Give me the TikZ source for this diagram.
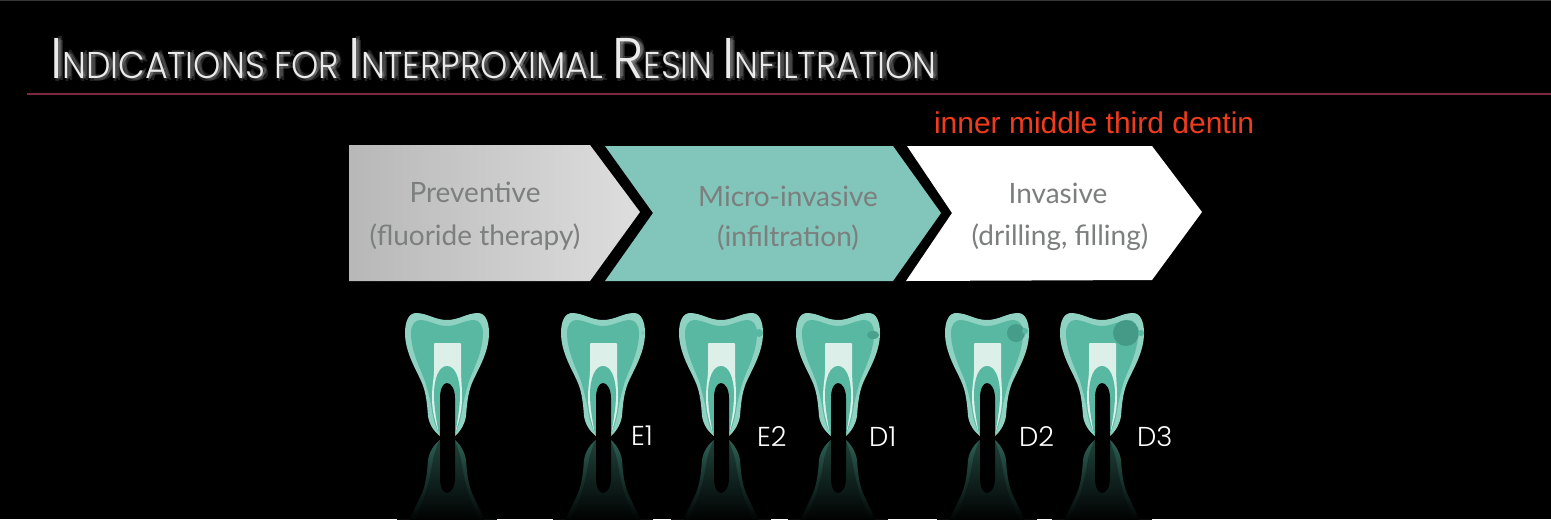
\documentclass[tikz,border=0pt]{standalone}
\usepackage{fontspec}
\usetikzlibrary{fadings}
\setmainfont{Lato}
\newfontfamily\titlefont{Poppins Light}
\newfontfamily\redfont{Liberation Sans}
\definecolor{enamel}{HTML}{8FD2C2}
\definecolor{dentin}{HTML}{58B8A2}
\definecolor{pulp}{HTML}{DCEFE9}
\definecolor{lesion}{HTML}{3F9180}
\definecolor{stage}{HTML}{82C5BA}
\definecolor{stagetext}{HTML}{7C7F7E}
\definecolor{rulecol}{HTML}{7A2A40}
\definecolor{redtext}{HTML}{F03C1E}
\newcommand{\tcap}[1]{{\fontsize{43}{43}\selectfont #1}}
\newcommand{\titletext}{\scalebox{0.93}[1]{\titlefont\fontsize{28}{28}\selectfont \tcap{I}NDICATIONS FOR \tcap{I}NTERPROXIMAL \tcap{R}ESIN \tcap{I}NFILTRATION}}
\newcommand{\outerpath}{(-7,123) .. controls (-14,118) and (-18,110) .. (-19,103) .. controls (-20,90) and (-21,80) .. (-25,70) .. controls (-30,58) and (-42,40) .. (-42,20) .. controls (-42,8) and (-38,0) .. (-31,0) .. controls (-20,0) and (-12,7) .. (0,7) .. controls (12,7) and (20,0) .. (31,0) .. controls (38,0) and (42,8) .. (42,20) .. controls (42,40) and (30,58) .. (25,70) .. controls (21,80) and (20,90) .. (19,103) .. controls (18,110) and (14,118) .. (8,123) -- cycle}
\newcommand{\dentinpath}{(-8,122) .. controls (-12,112) and (-14,105) .. (-15,98) .. controls (-17,85) and (-20,75) .. (-22,68) .. controls (-27,55) and (-36,38) .. (-36,20) .. controls (-36,12) and (-32,7) .. (-27,7) .. controls (-18,7) and (-10,13) .. (0,13) .. controls (10,13) and (18,7) .. (27,7) .. controls (32,7) and (36,12) .. (36,20) .. controls (36,38) and (27,55) .. (22,68) .. controls (20,75) and (17,85) .. (15,98) .. controls (14,105) and (12,112) .. (8,122) -- cycle}
\newcommand{\pulppath}{(-8,122) .. controls (-11,110) and (-15,100) .. (-15,85) .. controls (-15,72) and (-13,65) .. (-13,58) -- (-13,31) .. controls (-13,30) and (-12,30) .. (-11,30) -- (12,30) .. controls (13,30) and (14,30) .. (14,31) -- (14,58) .. controls (14,65) and (15,72) .. (15,85) .. controls (15,100) and (11,110) .. (8,122) -- cycle}
\newcommand{\archpath}{(-8,122) .. controls (-10,110) and (-13,95) .. (-13,82) .. controls (-13,65) and (-8,53) .. (0,53) .. controls (8,53) and (13,65) .. (13,82) .. controls (13,95) and (10,110) .. (8,122) -- cycle}
\newcommand{\gappath}{(-7,124) -- (-7,85) .. controls (-7,76) and (-4,70) .. (0,70) .. controls (4,70) and (8,76) .. (8,85) -- (8,124) -- cycle}
\tikzset{
  every node/.style={inner sep=0pt,outer sep=0pt},
  stagelabel/.style={text=stagetext,font=\fontsize{21}{21}\selectfont,anchor=center},
  gradeLabel/.style={text=white,font=\titlefont\fontsize{20.5}{20.5}\selectfont,anchor=base west},
  titleGlow/.style={anchor=base west,text=white,opacity=.13},
  pics/tooth/.style={code={
    \fill[enamel] \outerpath;
    \fill[dentin] \dentinpath;
    \fill[pulp] \pulppath;
    \fill[dentin] \archpath;
    \fill[black] \gappath;
    #1
    \begin{scope}[yscale=-1,shift={(0,-250)}]
      \fill[dentin!55!black] \outerpath;
      \fill[dentin!38!black] \dentinpath;
      \fill[black] \gappath;
      \fill[black,path fading=north] (-50,40) rectangle (50,127);
    \end{scope}
  }}
}
\begin{document}
\begin{tikzpicture}[x=0.75pt,y=-0.75pt]
\useasboundingbox (0,0) rectangle (1551,519);
\fill[black] (0,0) rectangle (1551,519);
\fill[black!78] (0,0) rectangle (1551,1);
% title
\foreach \dx/\dy [count=\k] in {3/0,5/2,1/3,4/-2,2/1}{
  \node[titleGlow] (titleglow\k) at (50+\dx,78+\dy) {\titletext};
}
\node[anchor=base west,text=white!92!black] (title) at (50,78) {\titletext};
\draw[rulecol,line width=0.9pt] (27,94) -- (1551,94);
\node[anchor=base west,text=redtext,font=\redfont\fontsize{22.5}{22.5}\selectfont] (redlabel) at (934,133) {inner middle third dentin};
% stages
\shade[left color=black!28,right color=black!13] (349,145) -- (590,145) -- (640,212) -- (590,281) -- (349,281) -- cycle;
\fill[stage] (605,146) -- (893,146) -- (941,213) -- (893,281) -- (605,281) -- (653,213) -- cycle;
\fill[white] (907,146) -- (1152,146) -- (1202,212) -- (1152,280) -- (906,281) -- (952,213) -- cycle;
\node[stagelabel] (p1) at (475,192) {Preventive};
\node[stagelabel] (p2) at (475,237) {(fluoride therapy)};
\node[stagelabel] (m1) at (788,196) {Micro-invasive};
\node[stagelabel] (m2) at (788,238) {(infiltration)};
\node[stagelabel] (i1) at (1058,193) {Invasive};
\node[stagelabel] (i2) at (1060,237) {(drilling, filling)};
% teeth
\pic at (447,313) {tooth={}};
\pic at (603,313) {tooth={\fill[enamel!70!dentin] (40,20) circle (2);}};
\pic at (721,313) {tooth={\fill[dentin] (38,20) circle (4);}};
\pic at (838,313) {tooth={\fill[lesion!60!dentin] (35,22) ellipse (6 and 4);}};
\pic at (987,313) {tooth={\fill[lesion!70!dentin] (29,20) circle (9);\fill[dentin] (38,18) circle (3);}};
\pic at (1102,313) {tooth={\fill[lesion!80!dentin] (24,20) circle (13);\fill[dentin] (39,20) circle (3);}};
\node[gradeLabel] (e1) at (631,445) {E1};
\node[gradeLabel] (e2) at (757,446) {E2};
\node[gradeLabel] (d1) at (869,446) {D1};
\node[gradeLabel] (d2) at (1019,446) {D2};
\node[gradeLabel] (d3) at (1137,446) {D3};
\end{tikzpicture}
\end{document}
